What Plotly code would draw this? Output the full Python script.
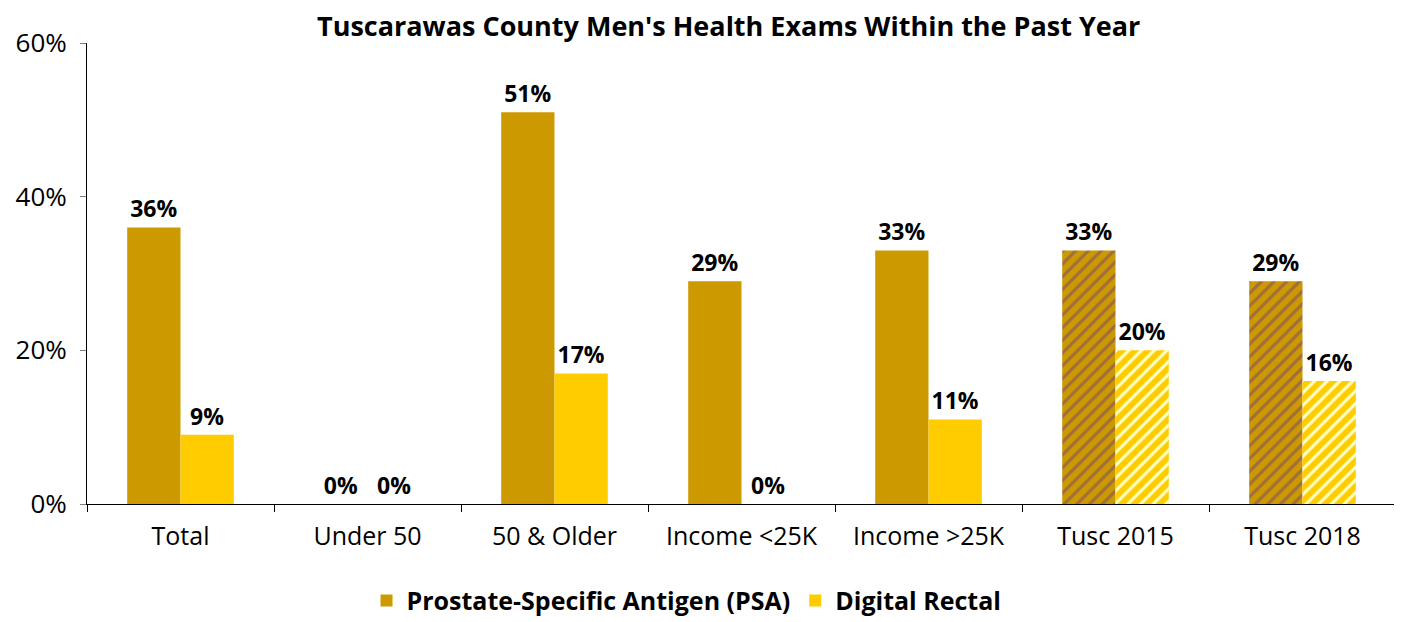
import plotly.graph_objects as go

categories = ["Total", "Under 50", "50 & Older", "Income <25K", "Income >25K", "Tusc 2015", "Tusc 2018"]
psa = [36, 0, 51, 29, 33, 33, 29]
digital_rectal = [9, 0, 17, 0, 11, 20, 16]
hatch = ["", "", "", "", "", "/", "/"]
y_ticks = [0, 20, 40, 60]
y_tick_labels = ["0%", "20%", "40%", "60%"]

FONT = "Open Sans, Noto Sans, sans-serif"

fig = go.Figure()
fig.add_trace(go.Bar(
    name="Prostate-Specific Antigen (PSA)",
    x=categories, y=psa,
    marker=dict(color="#cc9900", line=dict(width=0),
                pattern=dict(shape=hatch, fgcolor="#a06e3c", bgcolor="#cc9900",
                             size=9, solidity=0.35, fillmode="replace")),
    text=[f"{v}%" for v in psa], textposition="outside", cliponaxis=False,
    textfont=dict(size=23, color="black", family=FONT, weight="bold"),
))
fig.add_trace(go.Bar(
    name="Digital Rectal",
    x=categories, y=digital_rectal,
    marker=dict(color="#ffcc00", line=dict(width=0),
                pattern=dict(shape=hatch, fgcolor="#ffffc4", bgcolor="#ffcc00",
                             size=9, solidity=0.35, fillmode="replace")),
    text=[f"{v}%" for v in digital_rectal], textposition="outside", cliponaxis=False,
    textfont=dict(size=23, color="black", family=FONT, weight="bold"),
))

fig.update_layout(
    width=1394, height=614,
    barmode="group", bargap=0.43, bargroupgap=0,
    plot_bgcolor="white", paper_bgcolor="white",
    font=dict(family=FONT, size=25, color="black"),
    title=dict(text="<b>Tuscarawas County Men's Health Exams Within the Past Year</b>",
               xref="container", yref="container",
               x=0.517, xanchor="center", y=0.97, yanchor="middle",
               font=dict(size=27, family=FONT, color="black")),
    margin=dict(l=79, r=6, t=35, b=118, autoexpand=False),
    legend=dict(orientation="h", x=0.458, xanchor="center", y=-0.21, yanchor="middle",
                font=dict(size=25, family=FONT, color="black", weight="bold"),
                itemwidth=30, traceorder="normal"),
)
fig.update_yaxes(range=[0, 60], tickvals=y_ticks, ticktext=y_tick_labels,
                 showgrid=False, showline=True, linecolor="black", linewidth=1,
                 ticks="outside", ticklen=6, tickcolor="#808080",
                 ticklabelstandoff=8,
                 tickfont=dict(size=26, family=FONT), zeroline=False, automargin=False)
fig.update_xaxes(showgrid=False, showline=True, linecolor="black", linewidth=1,
                 ticks="outside", ticklen=7, tickcolor="black", tickson="boundaries",
                 ticklabelstandoff=10, automargin=False,
                 tickfont=dict(size=25, family=FONT))

fig.write_html("out.html")
